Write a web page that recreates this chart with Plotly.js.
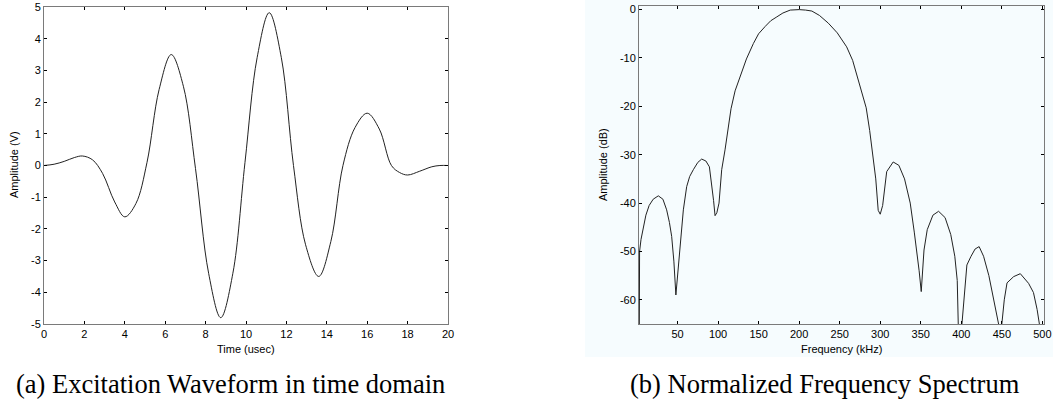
<!DOCTYPE html>
<html>
<head>
<meta charset="utf-8">
<script src="https://cdn.plot.ly/plotly-3.0.1.min.js"></script>
<style>
html,body{margin:0;padding:0;background:#fff;}
#chart{width:1053px;height:411px;}
</style>
</head>
<body>
<div id="chart"></div>
<script>
// ---- Data ----
const timeUs = [0, 0.5, 1.0, 1.5, 1.9, 2.4, 2.9, 3.5, 4.0, 4.55, 5.1, 5.7, 6.3, 6.9, 7.5, 8.15, 8.75, 9.35, 9.95, 10.55, 11.15, 11.75, 12.35, 12.95, 13.6, 14.2, 14.8, 15.4, 16.0, 16.6, 17.2, 17.6, 18.0, 18.6, 19.2, 19.6, 20];
const amplitudeV = [0, 0.04, 0.13, 0.25, 0.3, 0.18, -0.25, -1.15, -1.62, -1.2, 0.1, 2.4, 3.5, 2.5, -0.1, -3.4, -4.8, -3.4, 0.1, 3.4, 4.82, 3.4, 0, -2.5, -3.5, -2.4, 0, 1.2, 1.65, 1.15, 0, -0.22, -0.3, -0.18, -0.04, 0, 0];

const freqKHz = [2.5, 3.2, 5, 7.8, 11, 15, 20, 26.3, 32, 36.6, 40, 42.8, 45.5, 48, 50.5, 53, 57.2, 61.3, 65, 69.5, 75, 79.8, 85, 89.3, 92.2, 94.5, 96.3, 98.5, 101.2, 104.5, 108.6, 112, 116, 121, 127, 135, 143.6, 150, 158, 165, 172.5, 180, 189, 200, 208, 215.7, 225, 236, 247, 258.6, 266, 273, 282.7, 287, 291, 294.5, 297.5, 300, 303, 308, 316, 323, 330, 337, 342, 345, 348, 350.6, 352.5, 354, 358, 365, 372, 380, 387, 392, 395, 397, 399, 400.8, 406.9, 412, 417, 422, 427.5, 434, 440, 446, 448, 450, 453, 456.4, 464.6, 472.8, 483, 489, 493.5, 496.3, 498];
const amplitudeDB = [-85, -50, -47.5, -44.9, -42.5, -40.5, -39.2, -38.5, -39.2, -41.4, -44, -46.9, -52, -59, -54, -49.7, -41.4, -36.6, -34.5, -33.1, -31.6, -30.9, -31.3, -32.5, -35.9, -39.5, -42.6, -42, -40, -33.1, -29, -25, -20.5, -16.8, -13.9, -10.2, -7, -5, -3.5, -2.3, -1.5, -0.7, -0.1, 0, -0.1, -0.3, -1.2, -2.8, -4.8, -7.7, -10.5, -14.5, -20.3, -25, -30, -35, -41.5, -42.3, -40.5, -33.5, -31.5, -32.2, -35, -40, -46, -49.7, -54, -58.3, -54, -49.7, -45.5, -42.5, -41.7, -43, -46.5, -51, -56, -65, -85, -65, -52.8, -51, -49.5, -49, -51, -55, -60, -65, -85, -65, -60, -56.5, -55.2, -54.6, -56.6, -58.5, -62, -65, -85];

const timeTicks = [0, 2, 4, 6, 8, 10, 12, 14, 16, 18, 20];
const voltTicks = [-5, -4, -3, -2, -1, 0, 1, 2, 3, 4, 5];
const freqTicks = [50, 100, 150, 200, 250, 300, 350, 400, 450, 500];
const dbTicks = [-60, -50, -40, -30, -20, -10, 0];

const captionA = "(a) Excitation Waveform in time domain";
const captionB = "(b) Normalized Frequency Spectrum";

// ---- Layout helpers ----
const W = 1053, H = 411;
const px = x => x / W;
const py = y => 1 - y / H;

const tickFont = {family: "Liberation Sans, Arial, sans-serif", size: 11, color: "#000"};
const labelFont = {family: "Liberation Sans, Arial, sans-serif", size: 11, color: "#000"};
const capFont = {family: "Liberation Serif, Times New Roman, serif", size: 26.5, color: "#000"};
const frameColor = "#7a7a7a";

function axisCommon(extra) {
  return Object.assign({
    showline: true, linecolor: frameColor, linewidth: 1, mirror: "ticks",
    ticks: "inside", ticklen: 3, tickwidth: 1, tickcolor: "#000",
    showgrid: false, zeroline: false, tickfont: tickFont,
    fixedrange: true
  }, extra);
}

function label(text, x, y, font, angle) {
  return {text: text, xref: "paper", yref: "paper", x: px(x), y: py(y),
          xanchor: "center", yanchor: "middle", textangle: angle || 0,
          showarrow: false, font: font};
}

const traces = [
  {x: timeUs, y: amplitudeV, xaxis: "x", yaxis: "y", mode: "lines",
   line: {color: "#222", width: 1, shape: "spline", smoothing: 1}, hoverinfo: "skip"},
  {x: freqKHz, y: amplitudeDB, xaxis: "x2", yaxis: "y2", mode: "lines",
   line: {color: "#222", width: 1}, hoverinfo: "skip"}
];

const layout = {
  width: W, height: H,
  margin: {l: 0, r: 0, t: 0, b: 0},
  paper_bgcolor: "#ffffff",
  plot_bgcolor: "rgba(0,0,0,0)",
  showlegend: false,
  xaxis: axisCommon({domain: [px(44), px(448)], range: [0, 20], tickvals: timeTicks, ticktext: timeTicks.map(String), anchor: "y"}),
  yaxis: axisCommon({domain: [py(324), py(7)], range: [-5, 5], tickvals: voltTicks, ticktext: voltTicks.map(String), anchor: "x"}),
  xaxis2: axisCommon({domain: [px(639), px(1044)], range: [2.5, 502], tickvals: freqTicks, ticktext: freqTicks.map(String), anchor: "y2"}),
  yaxis2: axisCommon({domain: [py(324), py(5.5)], range: [-65, 0.85], tickvals: dbTicks, ticktext: dbTicks.map(String), anchor: "x2"}),
  shapes: [
    {type: "rect", xref: "paper", yref: "paper", x0: px(585), x1: 1, y0: py(357), y1: 1,
     fillcolor: "#f6fcfe", line: {width: 0}, layer: "below"}
  ],
  annotations: [
    label("Amplitude (V)", 14, 165, labelFont, -90),
    label("Time (usec)", 246, 349, labelFont),
    label("Amplitude (dB)", 603, 165, labelFont, -90),
    label("Frequency (kHz)", 841, 349, labelFont),
    label(captionA, 230, 384, capFont),
    label(captionB, 825, 384, capFont)
  ]
};

Plotly.newPlot("chart", traces, layout, {displayModeBar: false, staticPlot: true});
</script>
</body>
</html>
